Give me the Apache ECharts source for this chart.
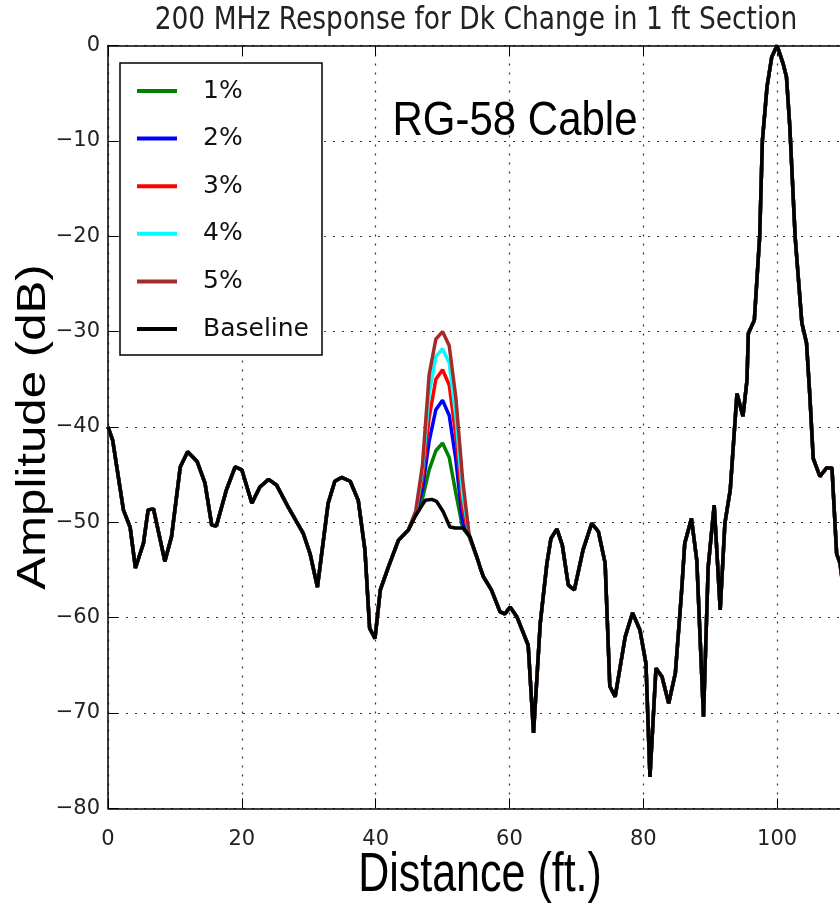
<!DOCTYPE html>
<html><head><meta charset="utf-8">
<script src="https://cdn.jsdelivr.net/npm/echarts@6/dist/echarts.min.js"></script>
<style>html,body{margin:0;padding:0;overflow:hidden;background:#fff}#c{width:846px;height:906px}</style>
</head><body><div id="c"></div><script>
// ---- data ----
const chartTitle = '200 MHz Response for Dk Change in 1 ft Section';
const cableLabel = 'RG-58 Cable';
const xName = 'Distance (ft.)';
const yName = 'Amplitude (dB)';

const distance = [0,0.7,2.3,3.3,4.1,5.3,6.0,6.8,8.5,9.5,10.8,11.9,13.3,14.5,15.5,16.2,17.7,19.0,20.0,21.5,22.7,24.0,25.2,27.0,29.2,30.2,31.3,32.9,33.9,34.9,36.2,37.4,38.4,39.1,39.9,40.7,41.9,43.4,44.9,45.9,47.4,48.4,49.1,50.1,51.1,51.9,53.1,54.1,55.1,55.6,56.1,57.3,58.6,59.3,60.1,61.1,62.8,63.6,64.6,65.6,66.2,67.1,67.9,68.8,69.7,71.0,72.3,73.3,74.3,75.0,75.8,77.3,78.4,79.5,80.4,81.0,81.9,82.8,83.8,84.8,85.7,86.2,87.2,88.0,89.0,89.7,90.6,91.5,92.2,93.0,94.0,94.9,95.5,95.7,96.6,97.4,97.8,98.5,99.2,100.0,100.9,101.4,101.9,102.7,103.7,104.4,104.9,105.4,106.4,107.4,108.2,108.9,109.4,110.0];
const baseline = [-40.0,-41.4,-48.7,-50.5,-54.8,-52.2,-48.7,-48.6,-54.1,-51.5,-44.2,-42.6,-43.6,-45.9,-50.3,-50.4,-46.6,-44.2,-44.5,-48.0,-46.3,-45.5,-46.1,-48.5,-51.2,-53.3,-56.8,-48.0,-45.7,-45.3,-45.7,-47.7,-52.9,-61.1,-62.2,-57.1,-54.7,-51.9,-50.8,-49.4,-47.7,-47.6,-47.8,-48.9,-50.5,-50.6,-50.6,-51.5,-53.6,-54.7,-55.7,-57.1,-59.4,-59.6,-58.9,-59.9,-62.9,-72.1,-60.6,-54.3,-51.7,-50.7,-52.4,-56.6,-57.1,-52.9,-50.1,-51.0,-54.3,-67.2,-68.3,-62.0,-59.5,-61.3,-64.8,-76.7,-65.3,-66.2,-69.0,-65.8,-57.5,-52.2,-49.6,-54.0,-70.4,-54.7,-48.2,-59.2,-50.1,-46.6,-36.5,-38.9,-35.1,-30.2,-28.8,-20.0,-10.0,-4.3,-1.2,0.0,-1.9,-3.3,-8.5,-20.1,-29.1,-31.2,-36.8,-43.3,-45.2,-44.3,-44.3,-53.3,-54.3,-57.5];

// the Dk-change section around 50 ft
const peakDistance = [46,47,48,49,50,51,52,53,54];
const dk1 = [-49.2,-47.5,-44.5,-42.5,-41.7,-43.2,-47.0,-50.6,-51.5];
const dk2 = [-49.1,-46.5,-41.5,-38.2,-37.2,-38.8,-43.5,-50.0,-51.5];
const dk3 = [-49.0,-45.5,-39.0,-35.0,-34.0,-35.6,-41.0,-48.5,-51.5];
const dk4 = [-48.9,-44.5,-36.5,-32.6,-31.8,-33.3,-39.0,-47.0,-51.5];
const dk5 = [-48.8,-44.0,-34.5,-30.8,-30.0,-31.5,-37.0,-45.5,-51.5];

const seriesNames = ['1%','2%','3%','4%','5%','Baseline'];
const seriesColors = ['#008000','#0000ff','#ff0000','#00ffff','#a52a2a','#000000'];
const xTicks = {min:0, max:110, step:20};
const yTicks = {min:-80, max:0, step:10};

// ---- build series ----
function basePairs(){ return distance.map((d,i)=>[d, baseline[i]]); }
function withPeak(vals){
  const lo = peakDistance[0]-0.5, hi = peakDistance[peakDistance.length-1]+0.5;
  const pts = distance.map((d,i)=>[d, baseline[i]]).filter(p=>p[0]<lo||p[0]>hi);
  peakDistance.forEach((d,i)=>pts.push([d, vals[i]]));
  pts.sort((a,b)=>a[0]-b[0]);
  return pts;
}
const seriesData = [withPeak(dk1),withPeak(dk2),withPeak(dk3),withPeak(dk4),withPeak(dk5),basePairs()];

const minus = v => v < 0 ? '\u2212' + Math.abs(v) : String(v);
const axisLineStyle = {color:'#000', width:1.5};
const chart = echarts.init(document.getElementById('c'), null, {renderer:'canvas'});
chart.setOption({
  animation:false,
  backgroundColor:'#fff',
  grid:{left:108, top:45.5, right:2, bottom:97.7, containLabel:false, outerBoundsMode:'none'},
  xAxis:[{
    type:'value', min:xTicks.min, max:xTicks.max, interval:xTicks.step, position:'bottom',
    axisLine:{show:true, onZero:false, lineStyle:axisLineStyle},
    axisTick:{show:true, inside:true, length:10, lineStyle:{color:'#000', width:1}},
    axisLabel:{fontFamily:'DejaVu Sans', fontSize:21, color:'#222', margin:21, formatter:minus, showMaxLabel:false},
    splitLine:{show:true, lineStyle:{type:[2,7], color:'#333', width:1.2}}
  },{
    type:'value', min:xTicks.min, max:xTicks.max, interval:xTicks.step, position:'top',
    axisLine:{show:true, onZero:false, lineStyle:axisLineStyle},
    axisTick:{show:true, inside:true, length:10, lineStyle:{color:'#000', width:1}},
    axisLabel:{show:false}, splitLine:{show:false}
  }],
  yAxis:[{
    type:'value', min:yTicks.min, max:yTicks.max, interval:yTicks.step,
    axisLine:{show:true, onZero:false, lineStyle:axisLineStyle},
    axisTick:{show:true, inside:true, length:10, lineStyle:{color:'#000', width:1}},
    axisLabel:{fontFamily:'DejaVu Sans', fontSize:21, color:'#222', margin:8, formatter:minus},
    splitLine:{show:true, lineStyle:{type:[2,7], color:'#333', width:1.2}}
  }],
  legend:{
    orient:'vertical', left:120, top:63,
    padding:[13,13,11,17], itemGap:17.6, itemWidth:40, itemHeight:4,
    icon:'rect',
    backgroundColor:'#fff', borderColor:'#000', borderWidth:1.5, borderRadius:0,
    textStyle:{fontFamily:'DejaVu Sans', fontSize:25, color:'#111', lineHeight:30, padding:[0,0,0,21]},
    data:seriesNames
  },
  graphic:[
    {type:'text', x:476, y:21, scaleY:1.2, z:100,
     style:{text:chartTitle, fontFamily:'DejaVu Sans', fontSize:26.5, fill:'#222', align:'center', verticalAlign:'middle'}},
    {type:'text', x:515, y:122, scaleY:1.15, z:100,
     style:{text:cableLabel, fontFamily:'Liberation Sans', fontSize:42, fill:'#000', align:'center', verticalAlign:'middle'}},
    {type:'text', x:480, y:876, scaleY:1.3, z:100,
     style:{text:xName, fontFamily:'Liberation Sans', fontSize:43, fill:'#000', align:'center', verticalAlign:'middle'}},
    {type:'text', x:34, y:427, rotation:Math.PI/2, scaleX:1.2, z:100,
     style:{text:yName, fontFamily:'Liberation Sans', fontSize:41, fill:'#000', align:'center', verticalAlign:'middle'}}
  ],
  series: seriesNames.map((n,i)=>({
    name:n, type:'line', data:seriesData[i], symbol:'none', showSymbol:false,
    color:seriesColors[i], lineStyle:{color:seriesColors[i], width:3.5},
    z:2+i, clip:true
  }))
});
</script></body></html>
